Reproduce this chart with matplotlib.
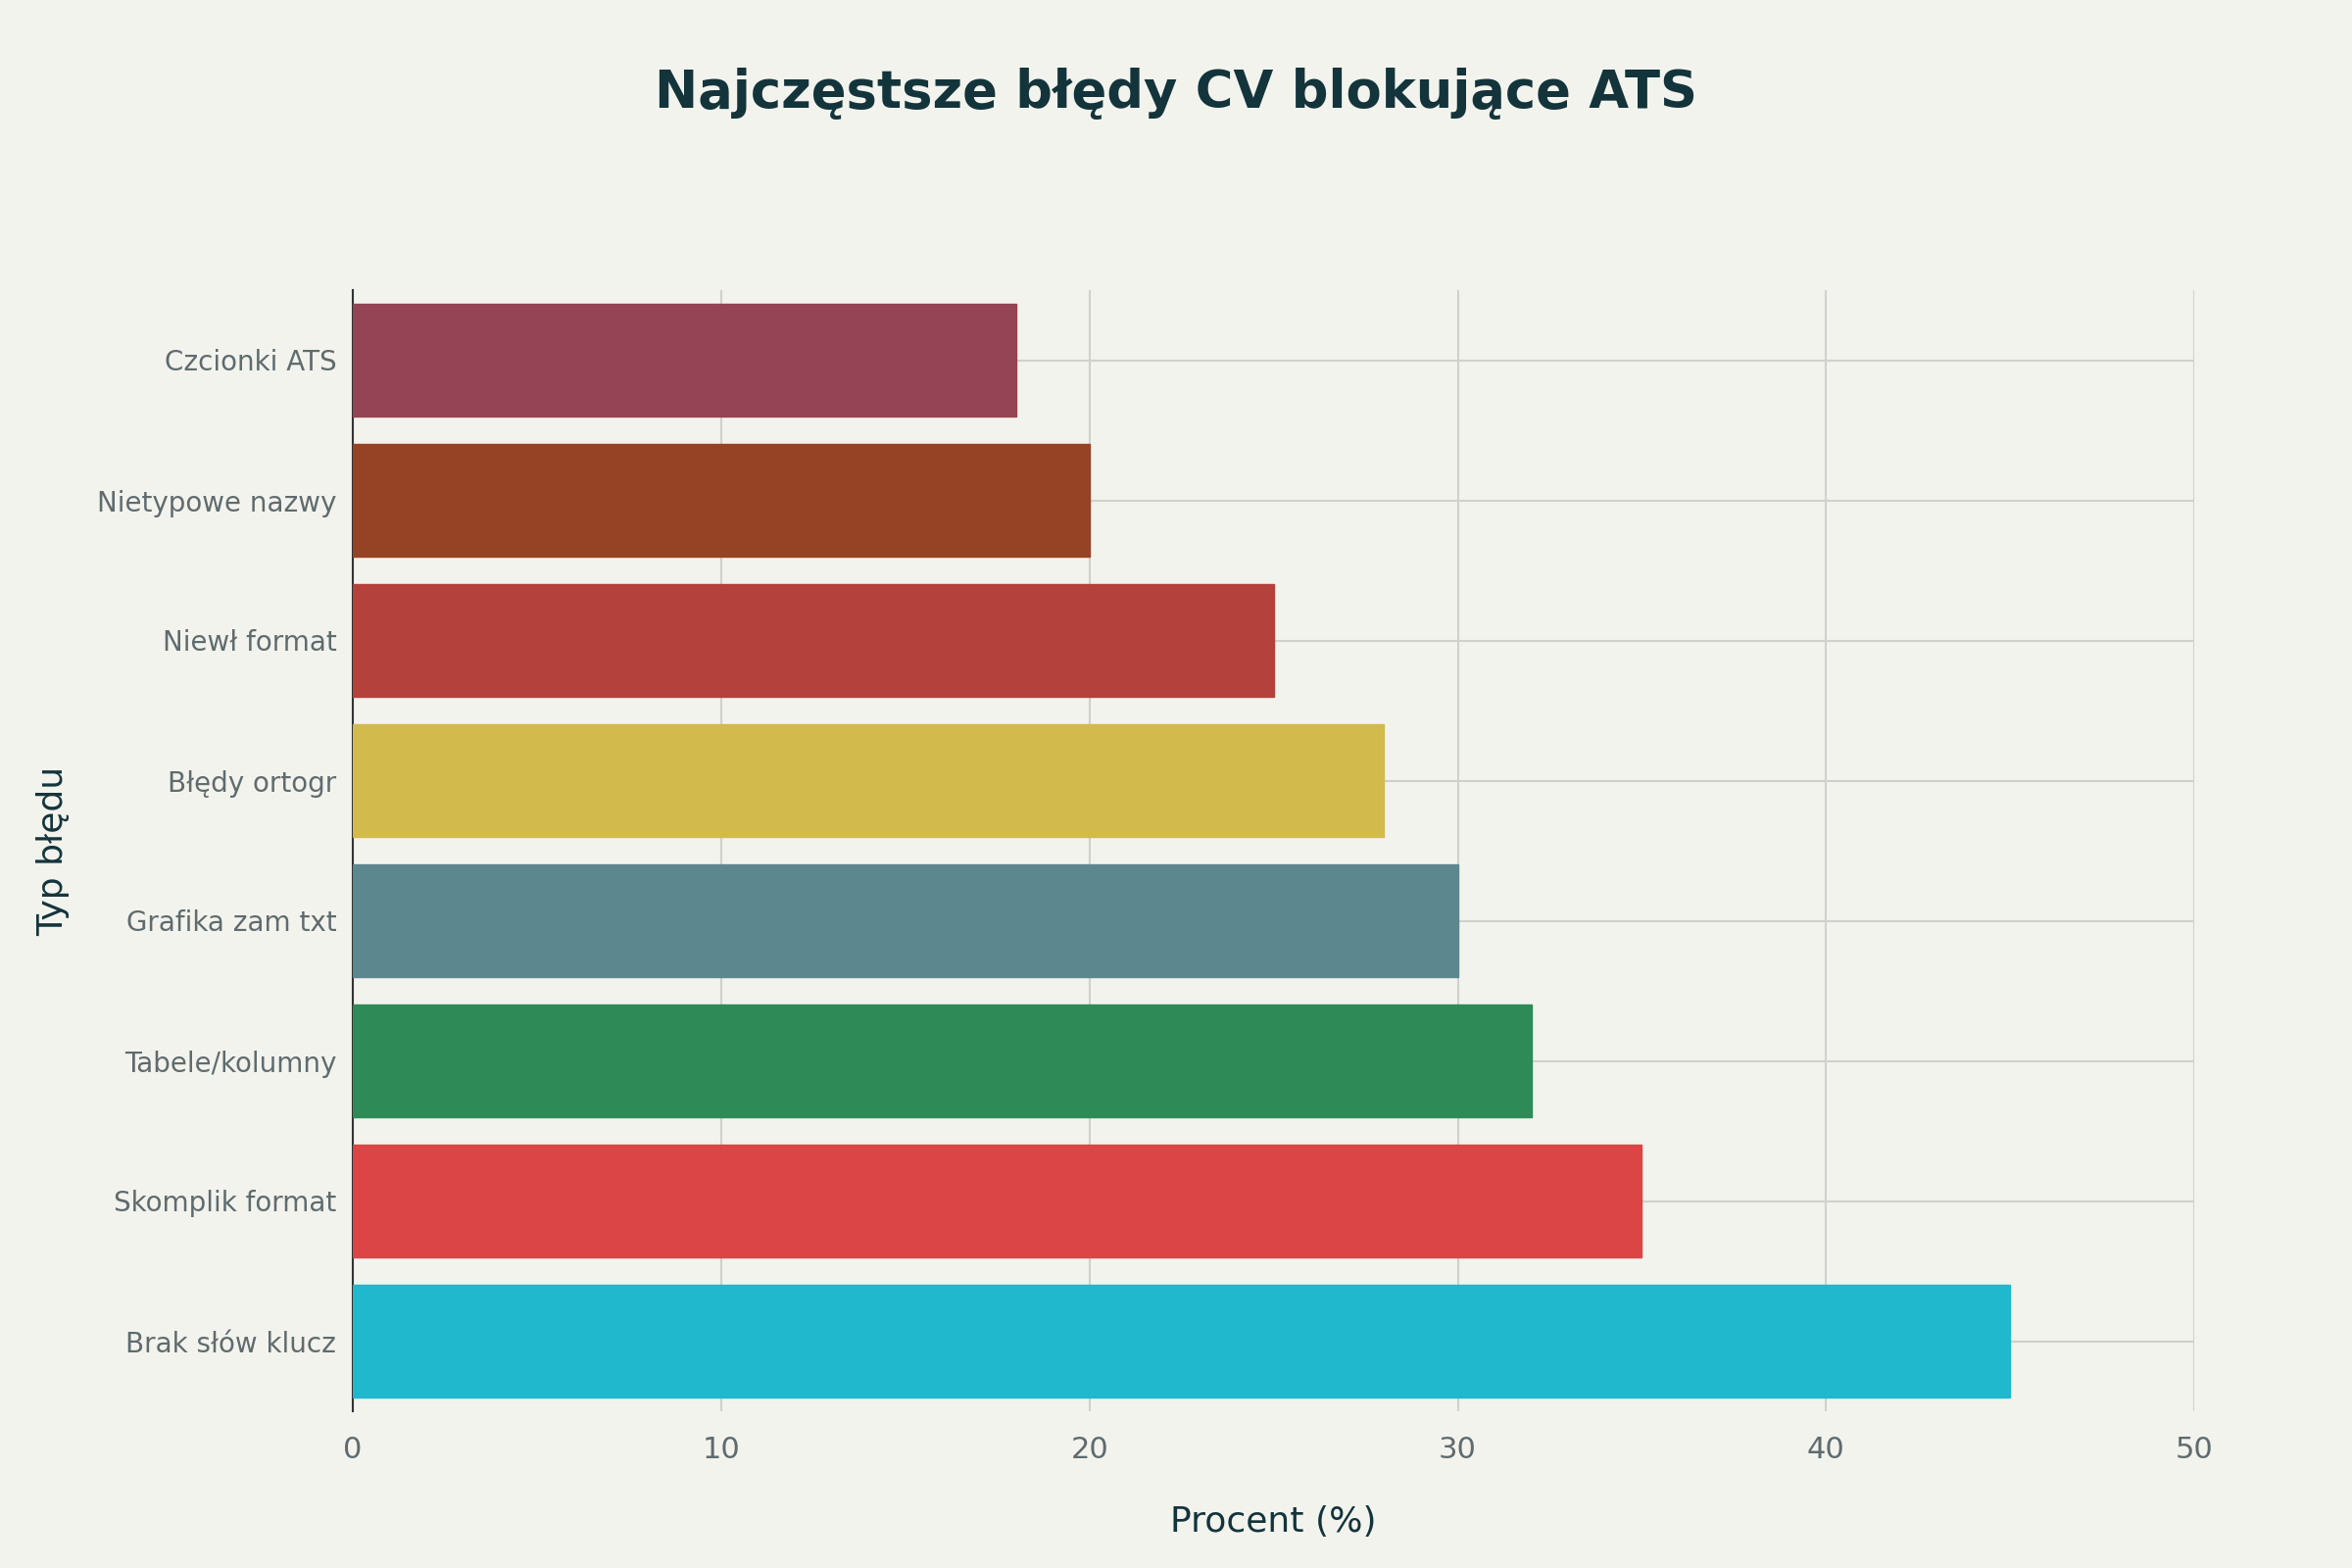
import matplotlib
matplotlib.use("Agg")
import matplotlib.pyplot as plt

categories = ["Brak słów klucz", "Skomplik format", "Tabele/kolumny", "Grafika zam txt",
              "Błędy ortogr", "Niewł format", "Nietypowe nazwy", "Czcionki ATS"]
values = [45, 35, 32, 30, 28, 25, 20, 18]
colors = ["#1FB8CD", "#DB4545", "#2E8B57", "#5D878F", "#D2BA4C", "#B4413C", "#964325", "#944454"]
xticks = [0, 10, 20, 30, 40, 50]

bg = "#F3F3EE"
fig = plt.figure(figsize=(24, 16), dpi=100, facecolor=bg)
ax = fig.add_axes([0.150, 0.100, 0.783, 0.715], facecolor=bg)
ax.barh(range(len(categories)), values, height=0.8, color=colors,
        edgecolor=[c for c in colors], linewidth=1, zorder=3)
ax.set_xlim(0, 50)
ax.set_ylim(-0.5, len(categories) - 0.5)
ax.set_xticks(xticks)
ax.set_yticks(range(len(categories)))
ax.set_yticklabels(categories)
ax.grid(True, color="#D0D0CC", linewidth=1.5, zorder=0)
for s in ["top", "right", "bottom"]:
    ax.spines[s].set_visible(False)
ax.spines["left"].set_color("#333333")
ax.spines["left"].set_linewidth(1.5)
ax.tick_params(axis="both", length=0, labelsize=20, colors="#5F6B6D", pad=12)
ax.tick_params(axis="x", pad=18, labelsize=22)
ax.set_xlabel("Procent (%)", fontsize=26, color="#13343B", labelpad=30)
ax.set_ylabel("Typ błędu", fontsize=26, color="#13343B", labelpad=20)
fig.text(0.5, 0.94, "Najczęstsze błędy CV blokujące ATS", ha="center", va="center",
         fontsize=38, fontweight="bold", color="#13343B")
fig.savefig("out.png", facecolor=bg)
